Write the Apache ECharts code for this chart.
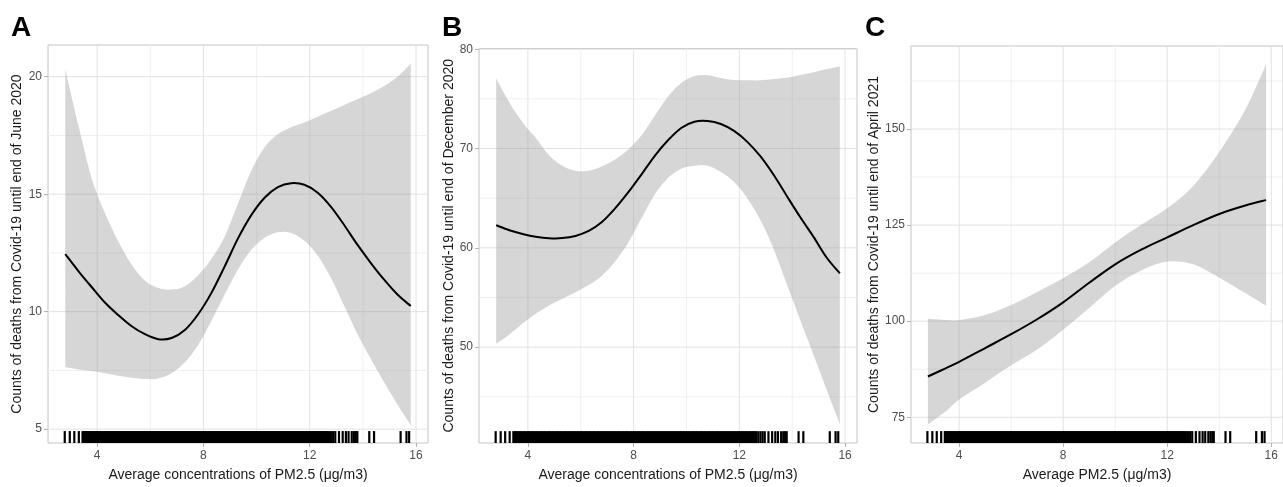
<!DOCTYPE html>
<html>
<head>
<meta charset="utf-8">
<script src="https://cdn.jsdelivr.net/npm/echarts@6/dist/echarts.min.js"></script>
<style>html,body{margin:0;padding:0;background:#fff;}#c{width:1283px;height:487px;}</style>
</head>
<body>
<div id="c"></div>
<script>
// ---- data ----
const xTicks = [4, 8, 12, 16];
const xMinor = [6, 10, 14];
const yTicksA = [5, 10, 15, 20];
const yMinorA = [7.5, 12.5, 17.5];
const yTicksB = [50, 60, 70, 80];
const yMinorB = [45, 55, 65, 75];
const yTicksC = [75, 100, 125, 150];
const yMinorC = [87.5, 112.5, 137.5, 162.5];

const xAB = [2.8, 3.3, 3.8, 4.3, 4.8, 5.3, 5.8, 6.3, 6.8, 7.3, 7.8, 8.3, 8.8, 9.3, 9.8, 10.3, 10.8, 11.3, 11.8, 12.3, 12.8, 13.3, 13.8, 14.3, 14.8, 15.3, 15.8];
const fitA   = [12.45, 11.72, 11.04, 10.38, 9.85, 9.38, 9.04, 8.83, 8.88, 9.22, 9.89, 10.80, 11.93, 13.12, 14.11, 14.85, 15.30, 15.47, 15.40, 15.06, 14.46, 13.68, 12.84, 12.07, 11.36, 10.73, 10.24];
const upperA = [20.32, 17.9, 15.65, 14.18, 12.98, 12.0, 11.32, 11.01, 10.94, 11.08, 11.55, 12.25, 13.2, 14.6, 16.0, 17.0, 17.55, 17.85, 18.05, 18.3, 18.55, 18.8, 19.05, 19.3, 19.6, 20.0, 20.55];
const lowerA = [7.64, 7.54, 7.47, 7.38, 7.27, 7.19, 7.13, 7.16, 7.38, 7.85, 8.58, 9.61, 10.73, 11.79, 12.63, 13.15, 13.38, 13.35, 13.02, 12.39, 11.43, 10.24, 9.04, 7.99, 7.0, 6.05, 5.18];

const fitB   = [62.27, 61.77, 61.4, 61.12, 60.97, 60.98, 61.2, 61.7, 62.6, 63.97, 65.6, 67.4, 69.27, 70.83, 72.07, 72.7, 72.77, 72.47, 71.77, 70.67, 69.2, 67.33, 65.2, 63.1, 61.13, 59.03, 57.43];
const upperB = [77.07, 74.63, 72.63, 71.07, 69.33, 68.27, 67.77, 67.77, 68.2, 68.9, 69.9, 71.33, 73.3, 75.23, 76.6, 77.3, 77.37, 77.1, 76.9, 76.87, 76.87, 77.0, 77.13, 77.4, 77.67, 78.0, 78.27];
const lowerB = [50.33, 51.27, 52.37, 53.37, 54.2, 54.87, 55.53, 56.27, 57.2, 58.63, 60.53, 63.0, 65.4, 67.03, 67.97, 68.27, 68.27, 67.63, 66.63, 65.0, 62.77, 59.87, 56.3, 52.73, 49.27, 45.73, 42.27];

const xC = [2.8, 3.5, 4, 5, 6, 7, 8, 9, 10, 11, 12, 13, 14, 15, 15.8];
const fitC   = [85.6, 87.8, 89.4, 93.0, 96.6, 100.5, 104.9, 110.0, 114.8, 118.6, 121.8, 125.0, 127.9, 130.1, 131.5];
const upperC = [100.6, 100.3, 100.3, 101.6, 104.2, 107.6, 111.2, 115.3, 120.5, 125.1, 129.4, 135.2, 144.0, 155.0, 166.8];
const lowerC = [73.1, 76.6, 79.6, 84.0, 88.5, 92.6, 97.8, 103.4, 109.2, 113.2, 115.5, 114.8, 111.3, 107.3, 104.0];

// PM2.5 observations (rug)
const rugX = [2.78, 2.97, 3.14, 3.31,
  3.45, 3.5, 3.55, 3.6, 3.65, 3.7, 3.75, 3.8, 3.85, 3.9, 3.95, 4.0, 4.05, 4.1, 4.15, 4.2, 4.25, 4.3,
  4.35, 4.4, 4.45, 4.5, 4.55, 4.6, 4.65, 4.7, 4.75, 4.8, 4.85, 4.9, 4.95, 5.0, 5.05, 5.1, 5.15, 5.2,
  5.25, 5.3, 5.35, 5.4, 5.45, 5.5, 5.55, 5.6, 5.65, 5.7, 5.75, 5.8, 5.85, 5.9, 5.95, 6.0, 6.05, 6.1,
  6.15, 6.2, 6.25, 6.3, 6.35, 6.4, 6.45, 6.5, 6.55, 6.6, 6.65, 6.7, 6.75, 6.8, 6.85, 6.9, 6.95, 7.0,
  7.05, 7.1, 7.15, 7.2, 7.25, 7.3, 7.35, 7.4, 7.45, 7.5, 7.55, 7.6, 7.65, 7.7, 7.75, 7.8, 7.85, 7.9,
  7.95, 8.0, 8.05, 8.1, 8.15, 8.2, 8.25, 8.3, 8.35, 8.4, 8.45, 8.5, 8.55, 8.6, 8.65, 8.7, 8.75, 8.8,
  8.85, 8.9, 8.95, 9.0, 9.05, 9.1, 9.15, 9.2, 9.25, 9.3, 9.35, 9.4, 9.45, 9.5, 9.55, 9.6, 9.65, 9.7,
  9.75, 9.8, 9.85, 9.9, 9.95, 10.0, 10.05, 10.1, 10.15, 10.2, 10.25, 10.3, 10.35, 10.4, 10.45, 10.5,
  10.55, 10.6, 10.65, 10.7, 10.75, 10.8, 10.85, 10.9, 10.95, 11.0, 11.05, 11.1, 11.15, 11.2, 11.25,
  11.3, 11.35, 11.4, 11.45, 11.5, 11.55, 11.6, 11.65, 11.7, 11.75, 11.8, 11.85, 11.9, 11.95, 12.0,
  12.05, 12.1, 12.15, 12.2, 12.25, 12.3, 12.35, 12.4, 12.45, 12.5, 12.55, 12.6, 12.65,
  12.72, 12.8, 12.88, 12.96, 13.1, 13.24, 13.36, 13.46, 13.58, 13.66, 13.73, 13.79,
  14.24, 14.42, 15.42, 15.64, 15.74];

const xTitleAB = 'Average concentrations of PM2.5 (μg/m3)';
const xTitleC = 'Average PM2.5 (μg/m3)';
const yTitles = ['Counts of deaths from Covid-19 until end of June 2020',
                 'Counts of deaths from Covid-19 until end of December 2020',
                 'Counts of deaths from Covid-19 until end of April 2021'];
const letters = ['A', 'B', 'C'];

// ---- chart ----
const FONT = 'Liberation Sans, Arial, sans-serif';
const panels = [
  {x: xAB, fit: fitA, up: upperA, lo: lowerA, yMin: 4.41, yMax: 21.35, yt: yTicksA, ym: yMinorA, xt: xTitleAB,
   grid: {left: 48, top: 45, width: 380, height: 402}, nameGap: 24, letterLeft: 11},
  {x: xAB, fit: fitB, up: upperB, lo: lowerB, yMin: 40.35, yMax: 80.07, yt: yTicksB, ym: yMinorB, xt: xTitleAB,
   grid: {left: 479, top: 48.5, width: 378, height: 399}, nameGap: 23, letterLeft: 442},
  {x: xC, fit: fitC, up: upperC, lo: lowerC, yMin: 68.3, yMax: 171.6, yt: yTicksC, ym: yMinorC, xt: xTitleC,
   grid: {left: 911, top: 46, width: 372, height: 402}, nameGap: 30, letterLeft: 865}
];

// Catmull-Rom -> cubic bezier path segments (pixel space), starting after the first point
function smoothPath(pts) {
  let d = '';
  for (let k = 0; k < pts.length - 1; k++) {
    const p0 = pts[Math.max(k - 1, 0)], p1 = pts[k], p2 = pts[k + 1], p3 = pts[Math.min(k + 2, pts.length - 1)];
    const c1 = [p1[0] + (p2[0] - p0[0]) / 6, p1[1] + (p2[1] - p0[1]) / 6];
    const c2 = [p2[0] - (p3[0] - p1[0]) / 6, p2[1] - (p3[1] - p1[1]) / 6];
    d += 'C' + c1[0] + ',' + c1[1] + ' ' + c2[0] + ',' + c2[1] + ' ' + p2[0] + ',' + p2[1];
  }
  return d;
}

const grids = [], xAxes = [], yAxes = [], series = [], titles = [];

function vLines(i, vals, color, z) {
  return {
    type: 'custom', xAxisIndex: i, yAxisIndex: i, silent: true, z: z,
    data: vals.map(v => [v]), encode: {x: 0},
    renderItem: function (params, api) {
      const cs = params.coordSys;
      const px = api.coord([api.value(0), panels[i].yMin])[0];
      return {type: 'line', shape: {x1: px, y1: cs.y, x2: px, y2: cs.y + cs.height},
              style: {stroke: color, lineWidth: 1}};
    }
  };
}
function hLines(i, vals, color, z) {
  return {
    type: 'custom', xAxisIndex: i, yAxisIndex: i, silent: true, z: z,
    data: vals.map(v => [4, v]), encode: {x: 0, y: 1},
    renderItem: function (params, api) {
      const cs = params.coordSys;
      const py = api.coord([4, api.value(1)])[1];
      return {type: 'line', shape: {x1: cs.x, y1: py, x2: cs.x + cs.width, y2: py},
              style: {stroke: color, lineWidth: 1}};
    }
  };
}

panels.forEach((p, i) => {
  grids.push(Object.assign({show: true, borderColor: '#c4c4c4', borderWidth: 1, backgroundColor: '#fff'}, p.grid));
  xAxes.push({
    type: 'value', gridIndex: i, min: 2.15, max: 16.45,
    axisLine: {show: false, onZero: false},
    axisTick: {show: true, length: 4, lineStyle: {color: '#b3b3b3'}, customValues: xTicks},
    axisLabel: {color: '#4d4d4d', fontSize: 12, fontFamily: FONT, margin: 7, customValues: xTicks},
    splitLine: {show: false},
    name: p.xt, nameLocation: 'middle', nameGap: 25,
    nameTextStyle: {color: '#1a1a1a', fontSize: 14, fontFamily: FONT}
  });
  yAxes.push({
    type: 'value', gridIndex: i, min: p.yMin, max: p.yMax,
    axisLine: {show: false, onZero: false},
    axisTick: {show: true, length: 4, lineStyle: {color: '#b3b3b3'}, customValues: p.yt},
    axisLabel: {color: '#4d4d4d', fontSize: 12, fontFamily: FONT, margin: 6, customValues: p.yt},
    splitLine: {show: false},
    name: yTitles[i], nameLocation: 'middle', nameGap: p.nameGap,
    nameTextStyle: {color: '#1a1a1a', fontSize: 14, fontFamily: FONT}
  });
  series.push(vLines(i, xMinor, '#f0f0f0', 1));
  series.push(hLines(i, p.ym, '#f0f0f0', 1));
  series.push(vLines(i, xTicks, '#e2e2e2', 1));
  series.push(hLines(i, p.yt, '#e2e2e2', 1));
  // confidence band
  series.push({
    type: 'custom', xAxisIndex: i, yAxisIndex: i, silent: true, z: 2,
    data: [[p.x[0], p.fit[0]]], encode: {x: 0, y: 1},
    renderItem: function (params, api) {
      const up = p.x.map((x, k) => api.coord([x, p.up[k]]));
      const lo = p.x.map((x, k) => api.coord([x, p.lo[k]])).reverse();
      const d = 'M' + up[0][0] + ',' + up[0][1] + smoothPath(up) +
                'L' + lo[0][0] + ',' + lo[0][1] + smoothPath(lo) + 'Z';
      return {type: 'path', shape: {pathData: d}, style: {fill: 'rgba(153,153,153,0.4)', stroke: null}};
    }
  });
  // fitted line
  series.push({
    type: 'custom', xAxisIndex: i, yAxisIndex: i, silent: true, z: 3,
    data: [[p.x[0], p.fit[0]]], encode: {x: 0, y: 1},
    renderItem: function (params, api) {
      const pts = p.x.map((x, k) => api.coord([x, p.fit[k]]));
      const d = 'M' + pts[0][0] + ',' + pts[0][1] + smoothPath(pts);
      return {type: 'path', shape: {pathData: d}, style: {fill: null, stroke: '#000', lineWidth: 2}};
    }
  });
  // rug
  series.push({
    type: 'custom', xAxisIndex: i, yAxisIndex: i, silent: true, z: 4,
    data: rugX.map(v => [v]), encode: {x: 0},
    renderItem: function (params, api) {
      const cs = params.coordSys;
      const px = api.coord([api.value(0), panels[i].yMin])[0];
      const yb = cs.y + cs.height;
      return {type: 'line', shape: {x1: px, y1: yb, x2: px, y2: yb - cs.height * 0.03},
              style: {stroke: '#000', lineWidth: 2.2}};
    }
  });
  titles.push({text: letters[i], left: p.letterLeft, top: 14, padding: 0,
    textStyle: {fontSize: 28, fontWeight: 'bold', color: '#000', fontFamily: FONT}});
});

const chart = echarts.init(document.getElementById('c'), null, {renderer: 'canvas'});
chart.setOption({
  animation: false,
  backgroundColor: '#fff',
  title: titles,
  grid: grids,
  xAxis: xAxes,
  yAxis: yAxes,
  series: series
});
</script>
</body>
</html>
